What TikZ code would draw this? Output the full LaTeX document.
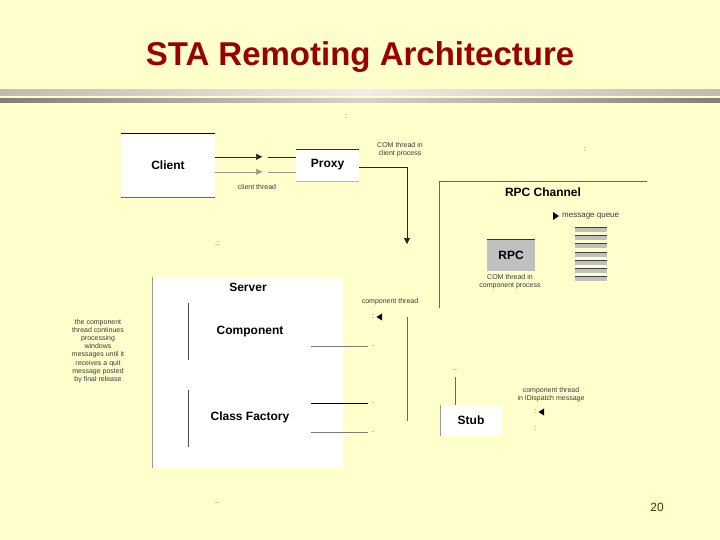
\documentclass[tikz,border=0pt]{standalone}
\usepackage{fontspec}
\setmainfont{Liberation Sans}
\usetikzlibrary{arrows.meta,calc}
\definecolor{bgc}{HTML}{FFFFCC}
\definecolor{titlec}{HTML}{990000}
\definecolor{barA}{HTML}{BDBCB0}
\definecolor{barAl}{HTML}{EEEEE6}
\definecolor{barB}{HTML}{847E74}
\definecolor{barBl}{HTML}{D6D2C6}
\definecolor{olivel}{HTML}{6E6A52}
\definecolor{lgray}{HTML}{9A9A90}
\definecolor{rpcg}{HTML}{C0C0C0}
\definecolor{txtg}{HTML}{3A3A3A}
\definecolor{pgc}{HTML}{4A3000}
\begin{document}
\begin{tikzpicture}[x=1pt,y=-1pt,
  box/.style={fill=white, draw=none, inner sep=0pt},
  lbl/.style={font=\bfseries\fontsize{12}{14}\selectfont, text=black},
  tiny/.style={font=\fontsize{7}{8.2}\selectfont, text=txtg, align=center, inner sep=0pt},
  tip/.style={-{Triangle[length=6pt,width=6pt]}},
]
\fill[bgc] (0,0) rectangle (720,540);
\useasboundingbox (0,0) rectangle (720,540);

% title and header bars
\node[font=\bfseries\fontsize{33}{38}\selectfont, text=titlec] (title) at (360,57) {STA Remoting Architecture};
\shade[left color=barA, right color=barA, middle color=barAl] (0,90) rectangle (720,95.5);
\shade[left color=barB, right color=barB, middle color=barBl] (0,99) rectangle (720,103);

% stray marks
\node[tiny] (m1) at (346,117) {:};
\node[tiny] (m2) at (585,150) {:};
\node[tiny] (m3) at (217,244) {.:};
\node[tiny] (m4) at (217,503) {..};

% client and proxy
\node[box, lbl, minimum width=94pt, minimum height=64pt] (client) at (168,165) {Client};
\draw[black] (client.north west) -- (client.north east);
\draw[olivel] (client.south west) -- (client.south east);

\node[box, lbl, minimum width=63pt, minimum height=32pt] (proxy) at (327.5,165) {Proxy};
\draw[black!80] (proxy.north west) -- (proxy.north east);
\draw[lgray!70] (proxy.south west) -- (proxy.south east);

\coordinate (c1) at ($(client.north east)+(0,24)$);
\coordinate (c2) at ($(client.north east)+(0,39)$);
\draw[tip, black!85] (c1) -- ++(47,0);
\draw[black!85] ($(c1)+(53,0)$) -- (proxy.west |- c1);
\draw[tip, lgray] (c2) -- ++(47,0);
\draw[lgray] ($(c2)+(53,0)$) -- (proxy.west |- c2);
\node[tiny] (ct) at (257,187) {client thread};

\coordinate (pdown) at (407,244);
\draw[tip, black!85] ($(proxy.east)+(0,2)$) -- (407,167) -- (pdown);
\node[tiny] (comc) at (400,150) {COM thread in\\client process};

% RPC channel
\coordinate (rcl) at (439,308);
\coordinate (rcr) at (647,181);
\draw[olivel] (rcl) -- (439,181) -- (rcr);
\node[lbl] (rpcch) at (543,192) {RPC Channel};
\fill[black] (553,212) -- (559,216) -- (553,220) -- cycle;
\node[font=\fontsize{8}{9}\selectfont, text=txtg, anchor=west, inner sep=0pt] (mq) at (562,216.5) {message queue};
\foreach \i in {0,...,6}{
  \fill[rpcg] ({575},{227+8.2*\i}) rectangle ({607},{232+8.2*\i});
  \draw[black!75, line width=1pt] ({575},{227.5+8.2*\i}) -- ({607},{227.5+8.2*\i});
}
\node[box, lbl, fill=rpcg, minimum width=48pt, minimum height=32pt] (rpc) at (511,255) {RPC};
\draw[black!80] (rpc.north west) -- (rpc.north east);
\node[tiny] (comp) at (510,282) {COM thread in\\component process};

% server
\node[box, minimum width=191pt, minimum height=191pt] (server) at (247.5,372.5) {};
\draw[lgray] (server.north west) -- (server.south west);
\node[lbl] (srv) at (248,287) {Server};
\node[lbl] (compo) at (250,332) {Component};
\node[lbl] (cf) at (250,417) {Class Factory};
\draw[black!70] (188,303) -- (188,360);
\draw[black!70] (188,390) -- (188,447);

\coordinate (h1) at (368,346);
\coordinate (h2) at (368,403);
\coordinate (h3) at (368,432);
\draw[lgray!80!black] (311,346) -- (h1);
\draw[black] (311,403) -- (h2);
\draw[lgray!80!black] (311,432) -- (h3);
\node[tiny] (d1) at (373,346) {.};
\node[tiny] (d2) at (373,403) {.};
\node[tiny] (d3) at (373,432) {.};

\draw[olivel] (407,317) -- (407,421);
\node[tiny] (cth) at (390,302) {component thread};
\node[tiny] (d4) at (373,317) {:};
\fill[black] (382,313.5) -- (376.5,317) -- (382,320.5) -- cycle;

\node[tiny] (left) at (98,351) {the component\\thread continues\\processing\\windows\\messages until it\\receives a quit\\message posted\\by final release};

% stub
\node[box, lbl, minimum width=62pt, minimum height=31pt] (stub) at (471,420.5) {Stub};
\draw[lgray] (stub.north west) -- (stub.south west);
\coordinate (stubtop) at (455,377);
\draw[olivel] (stubtop) -- (stubtop |- stub.north);
\node[tiny] (d5) at (455,370) {..};
\node[tiny] (cti) at (551,395) {component thread\\in IDispatch message};
\node[tiny] (d6) at (535,412) {:};
\fill[black] (544,408.5) -- (538.5,412) -- (544,415.5) -- cycle;
\node[tiny] (d7) at (535,429) {:};

% page number
\node[font=\fontsize{12}{14}\selectfont, text=pgc] (pg) at (657,507) {20};
\end{tikzpicture}
\end{document}
